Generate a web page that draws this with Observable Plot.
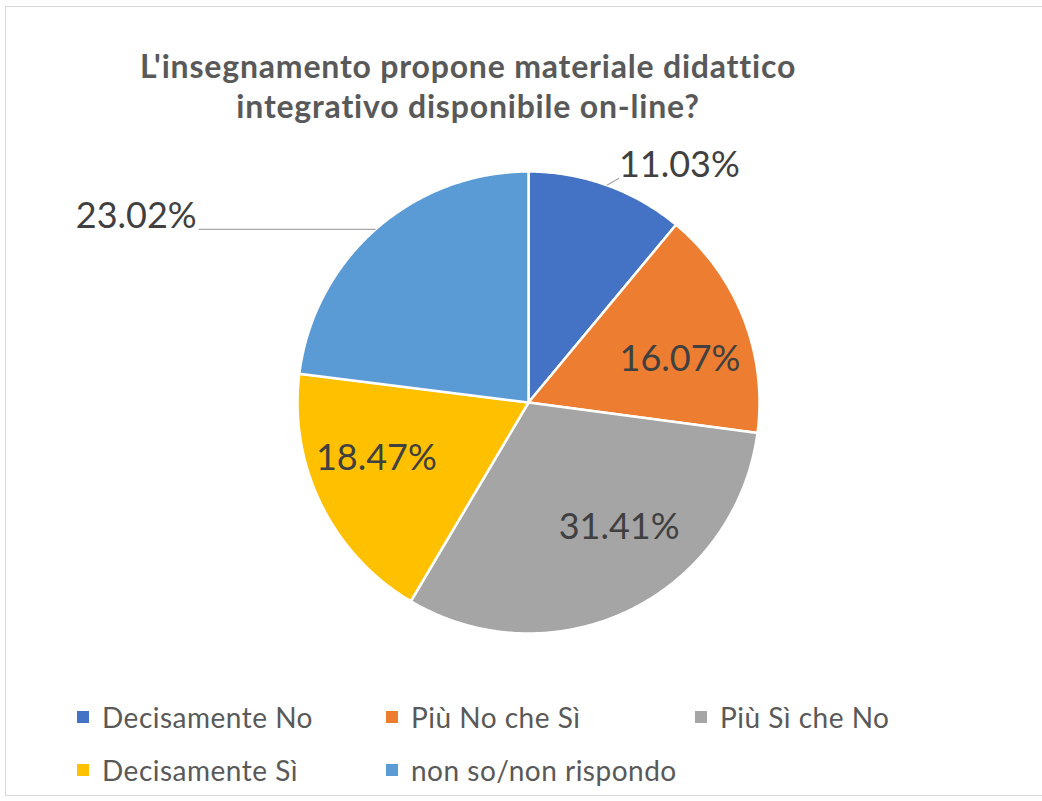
<!DOCTYPE html>
<html>
<head>
<meta charset="utf-8">
<script src="https://cdn.jsdelivr.net/npm/d3@7"></script>
<script src="https://cdn.jsdelivr.net/npm/@observablehq/plot@0.6"></script>
<style>
  html, body { margin: 0; padding: 0; background: #fff; }
  body { width: 1042px; height: 801px; position: relative; overflow: hidden; font-family: Lato, "Open Sans", sans-serif; }
  #frame { position: absolute; left: 5px; top: 6px; width: 1050px; height: 790px; border: 1.5px solid #d9d9d9; box-sizing: border-box; }
  #title { position: absolute; left: 0; top: 46px; width: 936px; text-align: center; font-weight: bold; font-size: 32px; letter-spacing: 0.8px; line-height: 40px; color: #595959; }
  #chart { position: absolute; left: 0; top: 140px; }
  #legend { position: absolute; left: 0; top: 0; width: 1042px; height: 801px; pointer-events: none; }
  .item { position: absolute; display: flex; align-items: center; font-size: 28px; letter-spacing: 0.5px; color: #595959; white-space: nowrap; }
  .sw { width: 12px; height: 12px; margin-right: 13px; display: inline-block; }
</style>
</head>
<body>
<div id="frame"></div>
<div id="title">L'insegnamento propone materiale didattico<br>integrativo disponibile on-line?</div>
<div id="chart"></div>
<div id="legend"></div>
<script>
// ---- data ----
const categories = ["Decisamente No", "Più No che Sì", "Più Sì che No", "Decisamente Sì", "non so/non rispondo"];
const values = [11.03, 16.07, 31.41, 18.47, 23.02];
const labels = ["11.03%", "16.07%", "31.41%", "18.47%", "23.02%"];

// ---- layout / style (code, not data) ----
const palette = ["#4472C4", "#ED7D31", "#A5A5A5", "#FFC000", "#5B9BD5"];
const W = 1042, H = 520, R = 231, CX = 528, CY = 262;
const outside = new Set(["Decisamente No", "non so/non rispondo"]);
// best-fit style nudges (pixels) for inside labels
const nudge = {"Più No che Sì": [3, 15], "Più Sì che No": [21, -18], "Decisamente Sì": [-9, -14]};

const total = d3.sum(values);
let acc = 0;
const slices = categories.map((c, i) => {
  const a0 = acc / total * 2 * Math.PI;
  acc += values[i];
  const a1 = acc / total * 2 * Math.PI;
  return {category: c, value: values[i], label: labels[i], a0, a1, mid: (a0 + a1) / 2};
});

// polygon vertices in unit coordinates (angle clockwise from 12 o'clock)
const pt = (a, r) => ({x: r * Math.sin(a), y: r * Math.cos(a)});
const poly = [];
for (const s of slices) {
  poly.push({category: s.category, ...pt(0, 0)});
  const n = Math.max(8, Math.ceil((s.a1 - s.a0) / 0.01));
  for (let k = 0; k <= n; k++) poly.push({category: s.category, ...pt(s.a0 + (s.a1 - s.a0) * k / n, 1)});
}

const inner = slices.filter(s => !outside.has(s.category)).map(s => {
  const p = pt(s.mid, 0.69);
  const [dx, dy] = nudge[s.category] || [0, 0];
  return {...s, x: p.x + dx / R, y: p.y - dy / R};
});

// outside labels with leader lines
const leaders = [];
const outLabels = [];
for (const s of slices.filter(s => outside.has(s.category))) {
  const e = pt(s.mid, 1);
  if (e.x >= 0) {
    const k = {x: e.x + 12 / R, y: e.y + 7 / R};
    leaders.push({x1: e.x, y1: e.y, x2: k.x, y2: k.y});
    outLabels.push({label: s.label, x: k.x, y: k.y, anchor: "start"});
  } else {
    const k = {x: e.x - 177 / R, y: e.y};
    leaders.push({x1: e.x, y1: e.y, x2: k.x, y2: k.y});
    outLabels.push({label: s.label, x: k.x - 2 / R, y: k.y, anchor: "end"});
  }
}

const chart = Plot.plot({
  width: W, height: H,
  margin: 0,
  x: {domain: [-CX / R, (W - CX) / R], axis: null},
  y: {domain: [-(H - CY) / R, CY / R], axis: null},
  color: {domain: categories, range: palette},
  marks: [
    Plot.line(poly, {x: "x", y: "y", z: "category", fill: "category", stroke: "#fff", strokeWidth: 2.5, curve: "linear-closed"}),
    Plot.link(leaders, {x1: "x1", y1: "y1", x2: "x2", y2: "y2", stroke: "#a6a6a6", strokeWidth: 1.2}),
    Plot.text(inner, {x: "x", y: "y", text: "label", fill: "#404040", fontSize: 36, fontFamily: "Lato, sans-serif"}),
    Plot.text(outLabels.filter(d => d.anchor === "start"), {x: "x", y: "y", text: "label", textAnchor: "start", dy: -13, fill: "#404040", fontSize: 36, fontFamily: "Lato, sans-serif"}),
    Plot.text(outLabels.filter(d => d.anchor === "end"), {x: "x", y: "y", text: "label", textAnchor: "end", dy: -13, fill: "#404040", fontSize: 36, fontFamily: "Lato, sans-serif"})
  ]
});
document.getElementById("chart").appendChild(chart);

// legend (built from the same categories and the plot's color scale)
const color = chart.scale("color");
const legend = document.getElementById("legend");
const cols = [77, 386, 695], rows = [717, 770];
categories.forEach((c, i) => {
  const el = document.createElement("div");
  el.className = "item";
  el.style.left = cols[i % 3] + "px";
  el.style.top = (rows[Math.floor(i / 3)] - 18) + "px";
  el.style.height = "36px";
  const sw = document.createElement("span");
  sw.className = "sw";
  sw.style.background = color.range[color.domain.indexOf(c)];
  el.appendChild(sw);
  el.appendChild(document.createTextNode(c));
  legend.appendChild(el);
});
</script>
</body>
</html>
